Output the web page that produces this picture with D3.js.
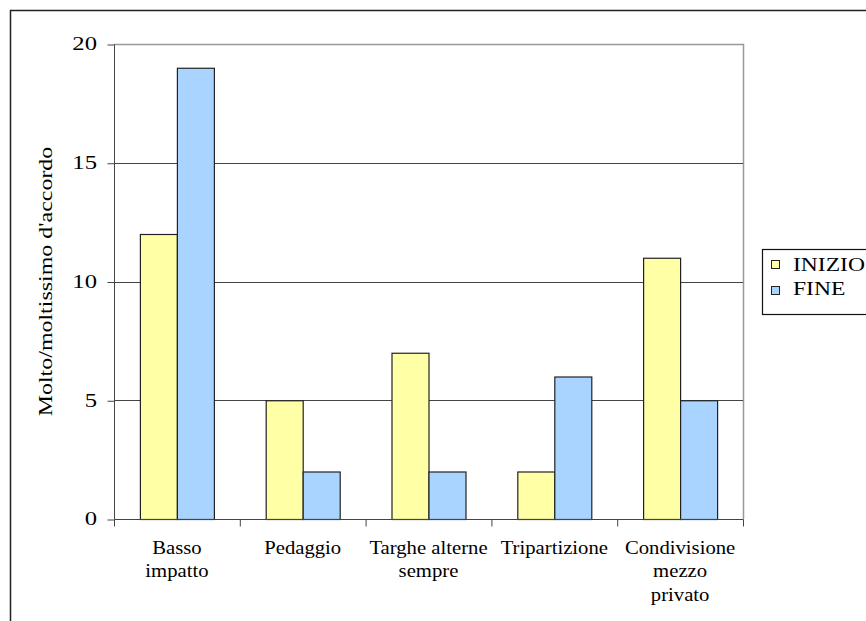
<!DOCTYPE html>
<html><head><meta charset="utf-8">
<script src="https://cdn.jsdelivr.net/npm/d3@7"></script>
<style>html,body{margin:0;padding:0;background:#fff;}svg{display:block;}</style>
</head><body>
<svg id="c" width="866" height="621"></svg>
<script>
const categories = [["Basso","impatto"],["Pedaggio"],["Targhe alterne","sempre"],["Tripartizione"],["Condivisione","mezzo","privato"]];
const seriesNames = ["INIZIO","FINE"];
const inizio = [12,5,7,2,11];
const fine = [19,2,2,6,5];
const yTicks = [0,5,10,15,20];
const yLabel = "Molto/moltissimo d'accordo";
const colors = ["#FFFFA6","#A8D4FF"];

const FONT = "'Liberation Serif', 'Times New Roman', serif";
const FS = 19;
const SX_TICK = 1.3, SX_CAT = 1.09, SX_YL = 1.26, SX_LEG = 1.24;

const svg = d3.select("#c");
svg.append("rect").attr("width",866).attr("height",621).attr("fill","#fff");
svg.append("rect").attr("x",10.5).attr("y",10.5).attr("width",1000).attr("height",1000)
  .attr("fill","none").attr("stroke","#222").attr("stroke-width",1.5);

const L=114,R=743,T=44,B=519;
const idx = d3.range(categories.length);
const x0 = d3.scaleBand().domain(idx).range([L,R]).padding(0);
const x1 = d3.scaleBand().domain(seriesNames).range([0,x0.bandwidth()]).paddingInner(0).paddingOuter(0.7);
const y = d3.scaleLinear().domain([0,20]).range([B,T]);

function txt(sel){ return sel.style("font-family",FONT).attr("font-size",FS).attr("fill","#000"); }

svg.append("path").attr("d",`M${L},${T+0.5}H${R+0.5}V${B}`).attr("fill","none").attr("stroke","#999").attr("stroke-width",1.5);
svg.append("g").selectAll("line").data(yTicks.filter(d=>d>0&&d<20)).join("line")
  .attr("x1",L).attr("x2",R).attr("y1",d=>Math.round(y(d))+0.5).attr("y2",d=>Math.round(y(d))+0.5)
  .attr("stroke","#444").attr("stroke-width",1);

const data = idx.map(i=>({i, vals:[{s:"INIZIO",v:inizio[i],c:colors[0]},{s:"FINE",v:fine[i],c:colors[1]}]}));
svg.append("g").selectAll("g").data(data).join("g")
  .attr("transform",d=>`translate(${x0(d.i)},0)`)
  .selectAll("rect").data(d=>d.vals).join("rect")
  .attr("x",d=>x1(d.s)+0.5).attr("width",x1.bandwidth())
  .attr("y",d=>y(d.v)+0.5).attr("height",d=>B-y(d.v))
  .attr("fill",d=>d.c).attr("stroke","#222").attr("stroke-width",1.2);

// y axis
const yAxis = d3.axisLeft(y).tickValues(yTicks).tickSize(7).tickFormat("");
const gy = svg.append("g").attr("transform",`translate(${L+0.5},0.5)`).call(yAxis);
gy.select(".domain").attr("stroke","#444").attr("d",`M0,${B}V${T}`);
gy.selectAll(".tick line").attr("stroke","#444");
svg.append("g").selectAll("text").data(yTicks).join("text")
  .attr("transform",d=>`translate(97,${y(d)}) scale(${SX_TICK},1)`)
  .attr("text-anchor","end").attr("dy","0.34em").call(txt).text(d=>d);

// x axis
const xb = d3.scaleLinear().domain([0,categories.length]).range([L,R]);
const gx = svg.append("g").attr("transform",`translate(0.5,${B+0.5})`);
gx.append("line").attr("x1",L).attr("x2",R).attr("stroke","#444");
gx.selectAll("line.t").data(d3.range(categories.length+1)).join("line").attr("class","t")
  .attr("x1",d=>xb(d)).attr("x2",d=>xb(d)).attr("y1",0).attr("y2",7).attr("stroke","#444");
const lab = svg.append("g").selectAll("text").data(idx).join("text")
  .attr("transform",i=>`translate(${x0(i)+x0.bandwidth()/2},554) scale(${SX_CAT},1)`)
  .attr("text-anchor","middle").call(txt);
lab.selectAll("tspan").data(i=>categories[i]).join("tspan")
  .attr("x",0).attr("dy",(d,j)=>j===0?0:23.5).text(d=>d);

// y label
svg.append("text").attr("transform",`translate(52,${(T+B)/2}) rotate(-90) scale(${SX_YL},1)`)
  .attr("text-anchor","middle").call(txt).text(yLabel);

// legend
const lg = svg.append("g");
lg.append("rect").attr("x",762.5).attr("y",249.5).attr("width",200).attr("height",65)
  .attr("fill","#fff").attr("stroke","#111").attr("stroke-width",1.2);
seriesNames.forEach((s,k)=>{
  lg.append("rect").attr("x",771.5).attr("y",260.5+k*26).attr("width",8).attr("height",8)
    .attr("fill",colors[k]).attr("stroke","#222");
  lg.append("text").attr("transform",`translate(793,${270.5+k*24.5}) scale(${SX_LEG},1)`).call(txt).text(s);
});
</script>
</body></html>
